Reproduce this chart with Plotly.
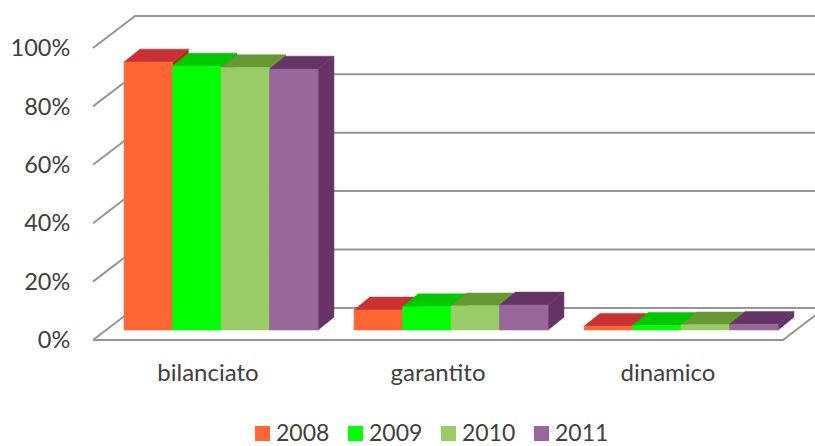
import plotly.graph_objects as go

categories = ["bilanciato", "garantito", "dinamico"]
years = ["2008", "2009", "2010", "2011"]
values_2008 = [91.8, 6.9, 1.3]
values_2009 = [90.4, 8.0, 1.6]
values_2010 = [89.9, 8.3, 1.8]
values_2011 = [89.4, 8.6, 2.0]
series_values = [values_2008, values_2009, values_2010, values_2011]
y_ticks = [0, 20, 40, 60, 80, 100]
y_labels = ["0%", "20%", "40%", "60%", "80%", "100%"]

front_colors = ["#FF6633", "#00FF00", "#99CC66", "#996699"]
top_colors = ["#C83232", "#00C800", "#669933", "#663366"]
side_colors = ["#A83018", "#00B000", "#5F8F30", "#663366"]

WIDTH, HEIGHT = 815, 446
# Frame of the front plane inside the page
PLOT_L, PLOT_R, PLOT_T, PLOT_B = 93, 783, 48, 340
X_MIN, X_MAX = -0.5, 2.5
Y_MIN, Y_MAX = 0, 100
PX_PER_X = (PLOT_R - PLOT_L) / (X_MAX - X_MIN)
PX_PER_Y = (PLOT_B - PLOT_T) / (Y_MAX - Y_MIN)

# Oblique projection: how far a receding edge moves, in axis units.
WALL_DX, WALL_DY = 0.183, 11.0
BAR_DX, BAR_DY = 0.069, 4.4
FLOOR_LIFT = 3.4          # bars stand slightly behind the front floor edge
BAR_W = 0.2109
GROUP_START = -0.365
GRID = "#969696"
TEXT = "#404040"
FONT = "Lato"

# Key row along the bottom of the page
KEY_LEFT, KEY_STEP, KEY_SIZE, KEY_MID, KEY_TEXT_MID, KEY_TEXT_GAP = 255, 93, 15, 433.5, 431.5, 5

fig = go.Figure()


def polygon(xs, ys, color):
    fig.add_trace(go.Scatter(
        x=xs + [xs[0]], y=ys + [ys[0]], mode="lines", fill="toself",
        fillcolor=color, line=dict(color=color, width=0.5),
        hoverinfo="skip", showlegend=False,
    ))


# Back wall, side wall and floor lines
grid_x, grid_y = [], []
for t in y_ticks:
    grid_x += [X_MIN, X_MIN + WALL_DX, X_MAX + WALL_DX, None]
    grid_y += [t, t + WALL_DY, t + WALL_DY, None]
grid_x += [X_MIN, X_MAX, X_MAX + WALL_DX, None]
grid_y += [0, 0, WALL_DY, None]
fig.add_trace(go.Scatter(
    x=grid_x, y=grid_y, mode="lines", line=dict(color=GRID, width=2),
    hoverinfo="skip", showlegend=False,
))

# Side and top faces, left to right so each series overlaps the previous one
for c in range(len(categories)):
    for k, vals in enumerate(series_values):
        left = c + GROUP_START + k * BAR_W
        right = left + BAR_W
        top = FLOOR_LIFT + vals[c]
        polygon([right, right + BAR_DX, right + BAR_DX, right],
                [FLOOR_LIFT, FLOOR_LIFT + BAR_DY, top + BAR_DY, top], side_colors[k])
        polygon([left, right, right + BAR_DX, left + BAR_DX],
                [top, top, top + BAR_DY, top + BAR_DY], top_colors[k])

# Front faces use the labelled axes, which are drawn above the depth faces
for k, vals in enumerate(series_values):
    fig.add_trace(go.Bar(
        x=list(range(len(categories))), y=vals, base=FLOOR_LIFT, name=years[k],
        width=BAR_W, offset=GROUP_START + k * BAR_W,
        marker=dict(color=front_colors[k], line=dict(width=0.5, color=front_colors[k])),
        xaxis="x2", yaxis="y2", showlegend=False,
    ))

# Series key: a colour square and a year for each series
key_shapes, key_labels = [], []
for k, year in enumerate(years):
    x0 = KEY_LEFT + k * KEY_STEP
    key_shapes.append(dict(
        type="rect", xref="paper", yref="paper",
        x0=x0 / WIDTH, x1=(x0 + KEY_SIZE) / WIDTH,
        y0=1 - (KEY_MID + KEY_SIZE / 2) / HEIGHT, y1=1 - (KEY_MID - KEY_SIZE / 2) / HEIGHT,
        fillcolor=front_colors[k], line=dict(width=0),
    ))
    key_labels.append(dict(
        text=year, xref="paper", yref="paper",
        x=(x0 + KEY_SIZE + KEY_TEXT_GAP) / WIDTH, xanchor="left",
        y=1 - KEY_TEXT_MID / HEIGHT, yanchor="middle",
        showarrow=False, borderpad=0, font=dict(size=23),
    ))

fig.update_layout(
    width=WIDTH, height=HEIGHT,
    margin=dict(l=0, r=0, t=0, b=0, autoexpand=False),
    paper_bgcolor="white", plot_bgcolor="rgba(0,0,0,0)",
    font=dict(family=FONT, size=24, color=TEXT),
    barmode="overlay", showlegend=False,
    shapes=key_shapes, annotations=key_labels,
    # Page-wide axes at the same scale as the labelled pair, for the depth geometry
    xaxis=dict(
        range=[X_MIN - PLOT_L / PX_PER_X, X_MAX + (WIDTH - PLOT_R) / PX_PER_X],
        domain=[0, 1], visible=False,
    ),
    yaxis=dict(
        range=[Y_MIN - (HEIGHT - PLOT_B) / PX_PER_Y, Y_MAX + PLOT_T / PX_PER_Y],
        domain=[0, 1], visible=False,
    ),
    xaxis2=dict(
        domain=[PLOT_L / WIDTH, PLOT_R / WIDTH], anchor="y2",
        range=[X_MIN, X_MAX], tickvals=[0, 1, 2], ticktext=categories,
        showgrid=False, zeroline=False, showline=False,
        ticks="outside", ticklen=11, tickcolor="rgba(0,0,0,0)",
    ),
    yaxis2=dict(
        domain=[1 - PLOT_B / HEIGHT, 1 - PLOT_T / HEIGHT], anchor="x2",
        range=[Y_MIN, Y_MAX], tickvals=y_ticks, ticktext=y_labels,
        showgrid=False, zeroline=False, showline=False,
        ticks="outside", ticklen=17, tickcolor="rgba(0,0,0,0)",
        tickfont=dict(size=23.5),
    ),
)

fig.write_html("out.html")
